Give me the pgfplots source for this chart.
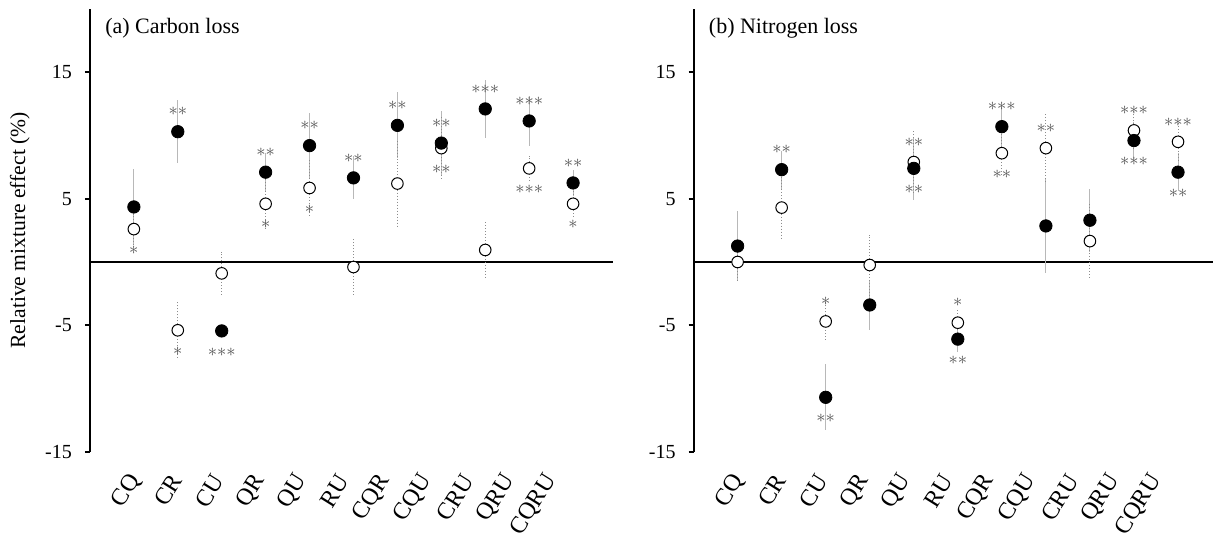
\documentclass[border=0pt]{standalone}
\usepackage{fontspec}
\setmainfont{Liberation Serif}
\usepackage{pgfplots}
\pgfplotsset{compat=1.18}
\usepackage{pgfplotstable}

% x, filled mean and error, open mean and error
\pgfplotstableread{
x f fe o oe
1 4.35 3.0 2.6 1.2
2 10.3 2.5 -5.4 2.2
3 -5.45 0.4 -0.9 1.7
4 7.1 1.5 4.6 2.0
5 9.2 2.6 5.85 2.25
6 6.65 1.7 -0.4 2.25
7 10.8 2.6 6.2 3.5
8 9.4 2.5 9.0 2.6
9 12.1 2.3 0.95 2.25
10 11.15 2.0 7.4 1.0
11 6.25 1.0 4.6 1.0
}\carbon

\pgfplotstableread{
x f fe o oe
1 1.26 2.8 0.0 1.5
2 7.3 1.5 4.3 2.4
3 -10.7 2.6 -4.7 1.5
4 -3.4 2.0 -0.24 2.4
5 7.4 2.5 7.9 2.5
6 -6.1 1.0 -4.8 1.0
7 10.7 1.7 8.6 1.7
8 2.85 3.75 9.0 2.8
9 3.3 2.5 1.65 3.0
10 9.6 1.5 10.4 1.5
11 7.1 1.5 9.5 1.5
}\nitrogen

% significance stars: x, value of the point they belong to, number of stars
\pgfplotstableread{
x y l
2 10.3 2
4 7.1 2
5 9.2 2
6 6.65 2
7 10.8 2
8 9.4 2
9 12.1 3
10 11.15 3
11 6.25 2
}\carbonup
\pgfplotstableread{
x y l
1 2.6 1
2 -5.4 1
3 -5.45 3
4 4.6 1
5 5.85 1
8 9.0 2
10 7.4 3
11 4.6 1
}\carbondown
\pgfplotstableread{
x y l
2 7.3 2
3 -4.7 1
5 7.9 2
6 -4.8 1
7 10.7 3
8 9.0 2
10 10.4 3
11 9.5 3
}\nitrogenup
\pgfplotstableread{
x y l
3 -10.7 2
5 7.4 2
6 -6.1 2
7 8.6 2
10 9.6 3
11 7.1 2
}\nitrogendown

\newcommand\stars[1]{\ifcase#1\or$\ast$\or${\ast}{\ast}$\or${\ast}{\ast}{\ast}$\fi}

\pgfplotsset{
  panel/.style={
    scale only axis, width=261.5pt, height=221.5pt,
    xmin=0, xmax=11.9, ymin=-15, ymax=20,
    axis lines*=left,
    x axis line style={draw=none},
    y axis line style={line width=1pt},
    xtick={1,...,11},
    xticklabels={CQ,CR,CU,QR,QU,RU,CQR,CQU,CRU,QRU,CQRU},
    xtick style={draw=none},
    ytick={-15,-5,5,15}, yticklabels={-15,-5,5,15},
    ytick style={black, line width=1pt},
    tick align=outside, major tick length=2.5pt,
    tick label style={font=\fontsize{10}{12}\selectfont},
    xticklabel style={anchor=east, font=\fontsize{12}{12}\selectfont,
      yshift=-7pt, xshift={2.5pt-1.15pt*\ticknum}, rotate=58},
    yticklabel style={xshift=-3pt},
    clip=false,
  },
  fbar/.style={draw=none, mark=none, forget plot,
    error bars/.cd, y dir=both, y explicit, error mark=none,
    error bar style={black!28, line width=0.5pt}},
  obar/.style={draw=none, mark=none, forget plot,
    error bars/.cd, y dir=both, y explicit, error mark=none,
    error bar style={black!45, line width=0.5pt, densely dotted}},
  fmark/.style={only marks, mark=*, mark size=3.1pt,
    mark options={fill=black, draw=black}},
  omark/.style={only marks, mark=*, mark size=2.9pt,
    mark options={fill=white, draw=black, line width=0.5pt}},
  sig/.style={draw=none, mark=none, point meta=explicit symbolic,
    nodes near coords={\stars{\pgfplotspointmeta}},
    every node near coord/.append style={anchor=center, yshift=#1,
      text=black!66, inner sep=0pt, font=\fontsize{9.5}{10}\selectfont}},
}

\begin{document}
\begin{tikzpicture}
\begin{axis}[panel, at={(0,0)}, anchor=south west,
  ylabel={Relative mixture effect (\%)},
  ylabel style={at={(axis description cs:-0.134,0.5)}, anchor=center,
    font=\fontsize{10.8}{12}\selectfont}]
  \addplot[black, line width=0.75pt] coordinates {(0,0) (11.9,0)};
  \addplot[fbar] table[x=x, y=f, y error=fe]{\carbon};
  \addplot[obar] table[x=x, y=o, y error=oe]{\carbon};
  \addplot[omark] table[x=x, y=o]{\carbon};
  \addplot[fmark] table[x=x, y=f]{\carbon};
  \addplot[sig=10pt] table[x=x, y=y, meta=l]{\carbonup};
  \addplot[sig=-10.5pt] table[x=x, y=y, meta=l]{\carbondown};
  \node[anchor=base west, inner sep=0pt, font=\fontsize{11}{12}\selectfont]
    at (rel axis cs:0,1) [xshift=7.5pt, yshift=-12.5pt] {(a) Carbon loss};
\end{axis}
\begin{axis}[panel, at={(302pt,0)}, anchor=south west, xmax=11.8, width=260pt]
  \addplot[black, line width=0.75pt] coordinates {(0,0) (11.8,0)};
  \addplot[fbar] table[x=x, y=f, y error=fe]{\nitrogen};
  \addplot[obar] table[x=x, y=o, y error=oe]{\nitrogen};
  \addplot[omark] table[x=x, y=o]{\nitrogen};
  \addplot[fmark] table[x=x, y=f]{\nitrogen};
  \addplot[sig=10pt] table[x=x, y=y, meta=l]{\nitrogenup};
  \addplot[sig=-10.5pt] table[x=x, y=y, meta=l]{\nitrogendown};
  \node[anchor=base west, inner sep=0pt, font=\fontsize{11}{12}\selectfont]
    at (rel axis cs:0,1) [xshift=7.5pt, yshift=-12.5pt] {(b) Nitrogen loss};
\end{axis}
\path[use as bounding box] (-45pt,-33.5pt) rectangle (562pt,226pt);
\end{tikzpicture}
\end{document}
